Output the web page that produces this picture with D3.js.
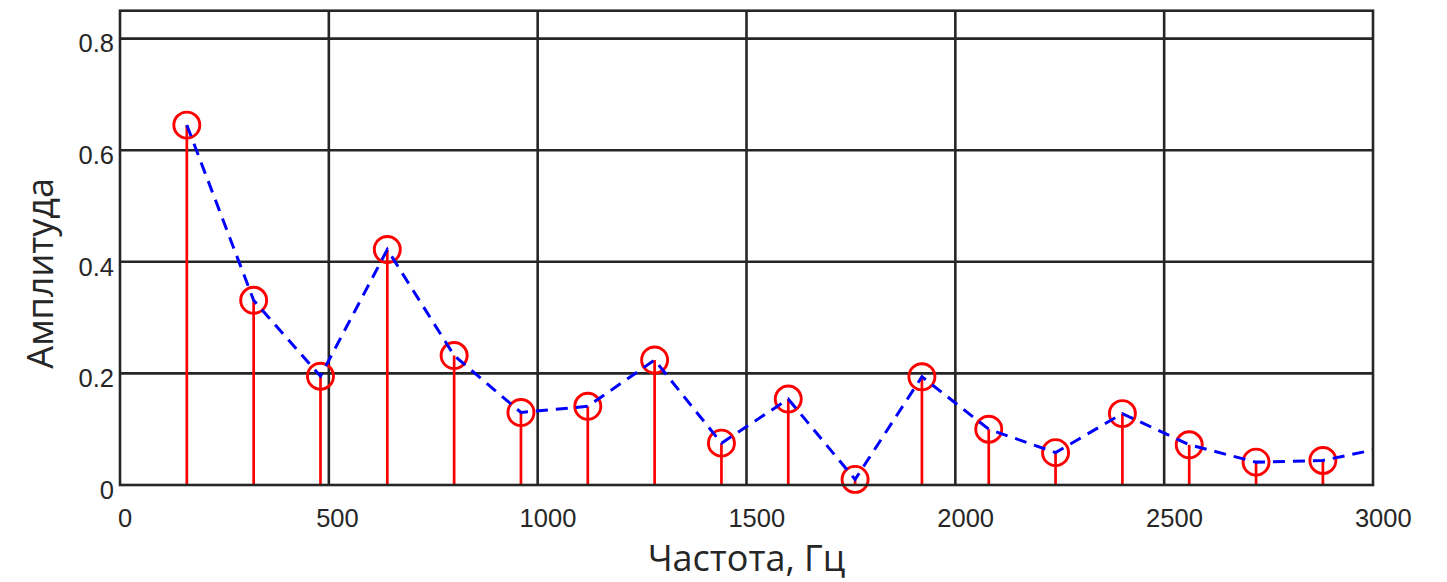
<!DOCTYPE html>
<html>
<head>
<meta charset="utf-8">
<script src="https://cdn.jsdelivr.net/npm/d3@7"></script>
<style>
  html, body { margin: 0; padding: 0; background: #ffffff; }
  svg { display: block; }
</style>
</head>
<body>
<svg id="chart" width="1447" height="582"></svg>
<script>
// ---- data ----
const frequencies = [160, 320, 480, 640, 800, 960, 1120, 1280, 1440, 1600, 1760, 1920, 2080, 2240, 2400, 2560, 2720, 2880];
const amplitudes  = [0.645, 0.331, 0.195, 0.422, 0.232, 0.130, 0.141, 0.224, 0.075, 0.154, 0.010, 0.194, 0.100, 0.058, 0.128, 0.072, 0.041, 0.044];
// dashed line continues past the right edge (clipped by the axes)
const lineFrequencies = [160, 320, 480, 640, 800, 960, 1120, 1280, 1440, 1600, 1760, 1920, 2080, 2240, 2400, 2560, 2720, 2880, 3040];
const lineAmplitudes  = [0.645, 0.331, 0.195, 0.422, 0.232, 0.130, 0.141, 0.224, 0.075, 0.154, 0.010, 0.194, 0.100, 0.058, 0.128, 0.072, 0.041, 0.044, 0.069];
const xTicks = [0, 500, 1000, 1500, 2000, 2500, 3000];
const yTicks = [0, 0.2, 0.4, 0.6, 0.8];
const xLabel = "Частота, Гц";
const yLabel = "Амплитуда";

// ---- layout ----
const W = 1447, H = 582;
const plot = { left: 120, right: 1373, top: 10.7, bottom: 485 };
const gridColor = "#262626";

const x = d3.scaleLinear().domain([0, 3000]).range([plot.left, plot.right]);
const y = d3.scaleLinear().domain([0, 0.85]).range([plot.bottom, plot.top]);

const svg = d3.select("#chart");

svg.append("defs").append("clipPath").attr("id", "plotClip")
  .append("rect")
  .attr("x", plot.left).attr("y", plot.top)
  .attr("width", plot.right - plot.left).attr("height", plot.bottom - plot.top);

// grid
const grid = svg.append("g");
grid.selectAll("line.gx").data(xTicks.slice(1, -1)).join("line")
  .attr("x1", d => x(d)).attr("x2", d => x(d))
  .attr("y1", plot.top).attr("y2", plot.bottom)
  .attr("stroke", gridColor).attr("stroke-width", 2.6);
grid.selectAll("line.gy").data(yTicks.slice(1)).join("line")
  .attr("x1", plot.left).attr("x2", plot.right)
  .attr("y1", d => y(d)).attr("y2", d => y(d))
  .attr("stroke", gridColor).attr("stroke-width", 2.6);

// axes with d3 axis generators (tick labels)
const xAxis = d3.axisBottom(x).tickValues(xTicks).tickSize(0).tickFormat(d3.format("d"));
const gx = svg.append("g").attr("transform", `translate(0,${plot.bottom})`).call(xAxis);
gx.select(".domain").remove();
gx.selectAll("text")
  .attr("font-family", "'Liberation Sans', Arial, sans-serif")
  .attr("font-size", 25.5)
  .attr("fill", gridColor)
  .attr("y", 0).attr("dy", 0)
  .attr("transform", function(d) {
    const len = String(d).length;
    return `translate(${3 + 1.7 * len},42)`;
  });

const yAxis = d3.axisLeft(y).tickValues(yTicks).tickSize(0).tickFormat(d => d === 0 ? "0" : d3.format(".1f")(d));
const gy = svg.append("g").attr("transform", `translate(${plot.left},0)`).call(yAxis);
gy.select(".domain").remove();
gy.selectAll("text")
  .attr("font-family", "'Liberation Sans', Arial, sans-serif")
  .attr("font-size", 25.5)
  .attr("fill", gridColor)
  .attr("x", -6).attr("dy", 0)
  .attr("transform", "translate(0,13.3)");

// stems
svg.append("g").selectAll("line").data(frequencies).join("line")
  .attr("x1", d => x(d)).attr("x2", d => x(d))
  .attr("y1", y(0)).attr("y2", (d, i) => y(amplitudes[i]))
  .attr("stroke", "#ff0000").attr("stroke-width", 2.7);

// markers
svg.append("g").selectAll("circle").data(frequencies).join("circle")
  .attr("cx", d => x(d)).attr("cy", (d, i) => y(amplitudes[i]))
  .attr("r", 13)
  .attr("fill", "none").attr("stroke", "#ff0000").attr("stroke-width", 2.9);

// dashed envelope line
const line = d3.line().x(d => x(d[0])).y(d => y(d[1]));
svg.append("path")
  .datum(lineFrequencies.map((f, i) => [f, lineAmplitudes[i]]))
  .attr("clip-path", "url(#plotClip)")
  .attr("d", line)
  .attr("fill", "none").attr("stroke", "#0000ff").attr("stroke-width", 3)
  .attr("stroke-dasharray", "12,8");

// frame (axes box)
svg.append("rect")
  .attr("x", plot.left).attr("y", plot.top)
  .attr("width", plot.right - plot.left).attr("height", plot.bottom - plot.top)
  .attr("fill", "none").attr("stroke", gridColor).attr("stroke-width", 2.6);

// axis labels
svg.append("text")
  .attr("x", (plot.left + plot.right) / 2).attr("y", 571)
  .attr("text-anchor", "middle")
  .attr("font-family", "'Open Sans', sans-serif").attr("font-size", 36)
  .attr("fill", gridColor)
  .text(xLabel);

svg.append("text")
  .attr("transform", `translate(53,273.3) rotate(-90)`)
  .attr("text-anchor", "middle")
  .attr("font-family", "'Open Sans', sans-serif").attr("font-size", 36)
  .attr("fill", gridColor)
  .text(yLabel);
</script>
</body>
</html>
